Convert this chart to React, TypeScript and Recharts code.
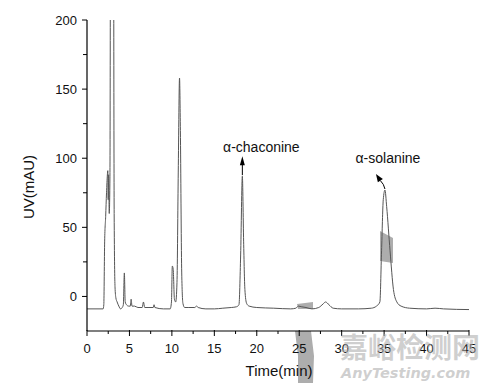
import React from "react";
import { LineChart, Line, XAxis, YAxis, ReferenceDot } from "recharts";

const times = [
  0, 1.9, 1.98, 2.08, 2.2, 2.3, 2.4, 2.45, 2.5, 2.55, 2.62, 2.7, 2.78, 2.95, 3.12, 3.2, 3.3, 3.4, 3.55, 3.75, 3.95,
  4.15, 4.28, 4.4, 4.5, 4.65, 4.9, 5.1, 5.2, 5.3, 5.6, 6.0, 6.5, 6.65, 6.8, 7.3, 7.8, 7.9, 8.0, 9.0, 9.8,
  9.95, 10.05, 10.15, 10.3, 10.45, 10.6, 10.75, 10.9, 11.0, 11.15, 11.3, 11.5, 12.0, 12.7, 12.9, 13.1, 14.0,
  15.0, 16.0, 17.0, 17.6, 17.9, 18.1, 18.3, 18.45, 18.6, 18.8, 19.1, 20.0, 22.0, 24.0, 24.6, 24.9, 25.3, 25.8,
  26.5, 27.3, 27.8, 28.1, 28.5, 29.0, 30.0, 32.0, 33.5, 34.1, 34.5, 34.7, 34.9, 35.1, 35.3, 35.7, 36.1, 36.5,
  37.0, 38.0, 40.0, 41.0, 42.0, 45.0,
];
const uvValues = [
  -9, -9, -6, 40, 58, 75, 88, 91, 70, 88, 60, 85, 320, 520, 320, 60, 7, -1, -4, -7, -9,
  -8, -6, 17, -4, -6, -7, -7, -2, -7, -7, -8, -8, -4, -8, -8, -8, -6, -8, -9, -9,
  -4, 22, 20, -2, -4, 10, 90, 158, 120, 20, -5, -8, -8, -8, -7, -8, -9,
  -9, -8.5, -8, -7.5, -6, 30, 87, 40, 5, -5, -7, -8, -8.5, -9, -8.5, -7, -7.5, -8,
  -9, -8, -5.5, -4, -6, -8.5, -9, -9, -8.5, -7, -4, 33, 70, 77, 65, 33, 5, -4,
  -7, -8.5, -9, -8.5, -9, -9.5,
];

const xTicks = [0, 2.5, 5, 7.5, 10, 12.5, 15, 17.5, 20, 22.5, 25, 27.5, 30, 32.5, 35, 37.5, 40, 42.5, 45];
const yTicks = [0, 25, 50, 75, 100, 125, 150, 175, 200];
const xLabel = "Time(min)";
const yLabel = "UV(mAU)";
const peakNames = ["α-chaconine", "α-solanine"];
const peakTimes = [18.3, 35.1];
const peakHeights = [87, 77];
const watermarkLines = ["嘉峪检测网", "AnyTesting.com"];

const data = times.map((t, i) => ({ t, uv: uvValues[i] }));

const FONT = "'Liberation Sans', Arial, sans-serif";

const XTick = (props: any) => {
  const { x, y, payload } = props;
  const major = payload.value % 5 === 0;
  return (
    <g>
      <line x1={x} x2={x} y1={major ? y - 1 : y} y2={y + (major ? 5 : 3)} stroke="#000" strokeWidth={1} />
      {major && (
        <text x={x} y={y + 17} textAnchor="middle" dominantBaseline="central" fontSize={13} fontFamily={FONT} fill="#111">
          {payload.value}
        </text>
      )}
    </g>
  );
};

const YTick = (props: any) => {
  const { x, y, payload } = props;
  const major = payload.value % 50 === 0;
  return (
    <g>
      <line x1={x - (major ? 5 : 4)} x2={x} y1={y} y2={y} stroke="#000" strokeWidth={1} />
      {major && (
        <text x={x - 10} y={y} textAnchor="end" dominantBaseline="central" fontSize={13} fontFamily={FONT} fill="#111">
          {payload.value}
        </text>
      )}
    </g>
  );
};

const ChaconineMark = (props: any) => {
  const { cx, cy } = props;
  return (
    <g>
      <line x1={cx} x2={cx} y1={cy - 1} y2={cy - 12} stroke="#000" strokeWidth={1} />
      <polygon points={`${cx},${cy - 20} ${cx - 2.5},${cy - 11} ${cx + 2.5},${cy - 11}`} fill="#000" />
      <text x={cx + 19} y={cy - 24} textAnchor="middle" fontSize={14} fontFamily={FONT} fill="#111">
        {peakNames[0]}
      </text>
    </g>
  );
};

const SolanineMark = (props: any) => {
  const { cx, cy } = props;
  return (
    <g>
      <path d={`M${cx},${cy - 1} Q${cx - 1},${cy - 6} ${cx - 4.6},${cy - 9.4}`} stroke="#000" strokeWidth={1} fill="none" />
      <polygon
        points={`${cx - 9},${cy - 16} ${cx - 2.1},${cy - 11.05} ${cx - 7.1},${cy - 7.75}`}
        fill="#000"
      />
      <text x={cx + 3} y={cy - 27} textAnchor="middle" fontSize={14} fontFamily={FONT} fill="#111">
        {peakNames[1]}
      </text>
    </g>
  );
};

const patchStyle = (clip: string): React.CSSProperties => ({
  position: "absolute",
  left: 0,
  top: 0,
  width: 490,
  height: 389,
  background: "#adadad",
  clipPath: clip,
});

export default function App() {
  return (
    <div style={{ position: "absolute", left: 0, top: 0, width: 490, height: 389, background: "#fff", overflow: "hidden" }}>
      {/* scan artifacts (grey patches) beneath the chart */}
      <div style={patchStyle("polygon(380px 231px, 393px 238px, 393px 263px, 380px 261px)")} />
      <div style={patchStyle("polygon(297px 304px, 313px 302px, 313px 309px, 298px 309px)")} />
      <div style={patchStyle("polygon(295px 331px, 311px 331px, 314px 356px, 313px 383px, 298px 383px, 298px 356px)")} />
      <div style={{ position: "absolute", left: 0, top: 0 }}>
        <LineChart
          width={490}
          height={389}
          data={data}
          margin={{ top: 20, right: 21, bottom: 28, left: 37 }}
        >
          <XAxis
            dataKey="t"
            type="number"
            domain={[0, 45]}
            ticks={xTicks}
            interval={0}
            height={30}
            tickSize={0}
            tickMargin={0}
            tick={<XTick />}
            axisLine={{ stroke: "#000", strokeWidth: 1.2 }}
            tickLine={false}
            allowDataOverflow
          />
          <YAxis
            type="number"
            domain={[-25, 200]}
            ticks={yTicks}
            interval={0}
            width={50}
            tickSize={0}
            tickMargin={0}
            tick={<YTick />}
            axisLine={{ stroke: "#000", strokeWidth: 1.2 }}
            tickLine={false}
            allowDataOverflow
          />
          <Line
            dataKey="uv"
            type="monotone"
            stroke="#555"
            strokeWidth={1}
            dot={false}
            isAnimationActive={false}
          />
          <ReferenceDot x={peakTimes[0]} y={peakHeights[0]} r={0} shape={<ChaconineMark />} ifOverflow="visible" />
          <ReferenceDot x={peakTimes[1]} y={peakHeights[1]} r={0} shape={<SolanineMark />} ifOverflow="visible" />
        </LineChart>
      </div>
      <div
        style={{
          position: "absolute",
          left: 28,
          top: 187,
          transform: "translate(-50%, -50%) rotate(-90deg)",
          fontFamily: FONT,
          fontSize: 15,
          color: "#111",
          whiteSpace: "nowrap",
        }}
      >
        {yLabel}
      </div>
      <div
        style={{
          position: "absolute",
          left: 279,
          top: 370,
          transform: "translate(-50%, -50%)",
          fontFamily: FONT,
          fontSize: 15,
          color: "#111",
          whiteSpace: "nowrap",
        }}
      >
        {xLabel}
      </div>
      <div
        style={{
          position: "absolute",
          left: 340,
          top: 328,
          fontFamily: "'Noto Sans CJK SC', sans-serif",
          fontSize: 28,
          fontWeight: 700,
          color: "rgba(175,175,175,0.6)",
          whiteSpace: "nowrap",
          lineHeight: "36px",
        }}
      >
        {watermarkLines[0]}
      </div>
      <div
        style={{
          position: "absolute",
          left: 341,
          top: 363,
          fontFamily: "'DejaVu Sans', sans-serif",
          fontSize: 14.5,
          fontStyle: "italic",
          fontWeight: 700,
          color: "rgba(175,175,175,0.6)",
          whiteSpace: "nowrap",
          lineHeight: "20px",
        }}
      >
        {watermarkLines[1]}
      </div>
    </div>
  );
}
